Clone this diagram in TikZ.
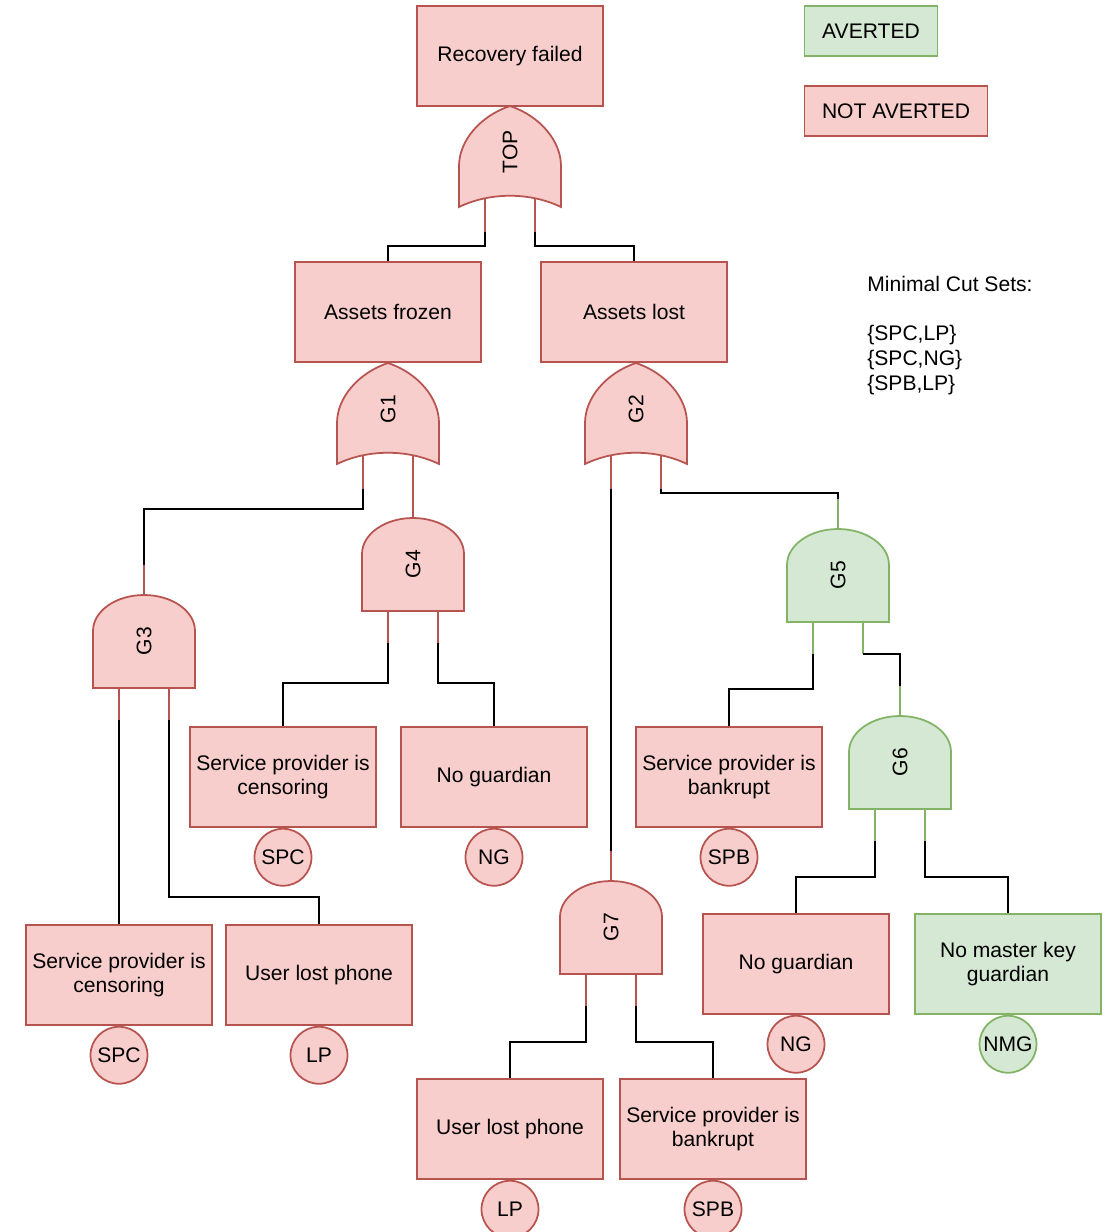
\documentclass[tikz,border=0pt]{standalone}
\usepackage{fontspec}
\setmainfont{Liberation Sans}
\usetikzlibrary{positioning}

\definecolor{nafill}{HTML}{F8CECC}
\definecolor{naline}{HTML}{B85450}
\definecolor{avfill}{HTML}{D5E8D4}
\definecolor{avline}{HTML}{82B366}

\tikzset{
    event/.style={rectangle, draw=naline, fill=nafill, line width=1pt, minimum width=3.72cm, minimum height=2cm, align=center, inner sep=2pt},
    basic/.style={circle, draw=naline, fill=nafill, line width=1pt, minimum size=1.14cm, inner sep=0pt},
    averted/.style={draw=avline, fill=avfill},
    notaverted/.style={draw=naline, fill=nafill},
    wire/.style={draw=black, line width=1pt},
}

% gates: name, x, y, colours, label
\newcommand{\orgate}[5]{%
  \begin{scope}[shift={(#2,#3)}, #4, line width=1pt]
    \draw (-25,85) -- (-25,126) coordinate (#1-a);
    \draw (25,85) -- (25,126) coordinate (#1-b);
    \filldraw (0,0) .. controls (-30,10) and (-51,35) .. (-51,60) -- (-51,101)
        .. controls (-20,86) and (20,86) .. (51,101) -- (51,60)
        .. controls (51,35) and (30,10) .. (0,0) -- cycle;
    \node[rotate=90] at (0,46) {#5};
  \end{scope}}
\newcommand{\andgate}[5]{%
  \begin{scope}[shift={(#2,#3)}, #4, line width=1pt]
    \draw (0,0) coordinate (#1-in) -- (0,30);
    \draw (-25,123) -- (-25,155) coordinate (#1-a);
    \draw (25,123) -- (25,155) coordinate (#1-b);
    \filldraw (-51,123) -- (-51,66) .. controls (-51,46) and (-28,30) .. (0,30)
        .. controls (28,30) and (51,46) .. (51,66) -- (51,123) -- cycle;
    \node[rotate=90] at (0,76) {#5};
  \end{scope}}

\begin{document}
\begin{tikzpicture}[x=0.02cm, y=-0.02cm, font=\fontsize{12}{14}\selectfont]
    \useasboundingbox (0,0) rectangle (1110,1232);

    % legend
    \node[event, averted, minimum width=2.66cm, minimum height=1cm] (legav) at (871,31) {AVERTED};
    \node[event, minimum width=3.66cm, minimum height=1cm] (legna) at (896,111) {NOT AVERTED};
    \node[anchor=north west, align=left, inner sep=0pt] (mcs) at (867,276)
        {Minimal Cut Sets:\\[14pt]\{SPC,LP\}\\\{SPC,NG\}\\\{SPB,LP\}};

    % events
    \node[event] (failed) at (510,56) {Recovery failed};
    \node[event] (frozen) at (388,312) {Assets frozen};
    \node[event] (lost) at (634,312) {Assets lost};
    \node[event] (spc1) at (283,777) {Service provider is\\censoring};
    \node[event] (ng1) at (494,777) {No guardian};
    \node[event] (spb1) at (729,777) {Service provider is\\bankrupt};
    \node[event] (spc2) at (119,975) {Service provider is\\censoring};
    \node[event] (lp1) at (319,975) {User lost phone};
    \node[event] (ng2) at (796,964) {No guardian};
    \node[event, averted] (nmg) at (1008,964) {No master key\\guardian};
    \node[event] (lp2) at (510,1129) {User lost phone};
    \node[event] (spb2) at (713,1129) {Service provider is\\bankrupt};

    % basic events
    \node[basic, below=0pt of spc1] (spc1c) {SPC};
    \node[basic, below=0pt of ng1] (ng1c) {NG};
    \node[basic, below=0pt of spb1] (spb1c) {SPB};
    \node[basic, below=0pt of spc2] (spc2c) {SPC};
    \node[basic, below=0pt of lp1] (lp1c) {LP};
    \node[basic, below=0pt of ng2] (ng2c) {NG};
    \node[basic, averted, below=0pt of nmg] (nmgc) {NMG};
    \node[basic, below=0pt of lp2] (lp2c) {LP};
    \node[basic, below=0pt of spb2] (spb2c) {SPB};

    % gates
    \orgate{top}{510}{106}{notaverted}{TOP}
    \orgate{g1}{388}{363}{notaverted}{G1}
    \orgate{g2}{636}{363}{notaverted}{G2}
    \andgate{g3}{144}{565}{notaverted}{G3}
    \andgate{g4}{413}{488}{notaverted}{G4}
    \andgate{g5}{838}{499}{averted}{G5}
    \andgate{g6}{900}{686}{averted}{G6}
    \andgate{g7}{611}{851}{notaverted}{G7}

    % connectors
    \draw[wire] (top-a) -- ++(0,14) -| (frozen.north);
    \draw[wire] (top-b) -- ++(0,14) -| (lost.north);
    \draw[wire] (g1-a) -- ++(0,20) -| (g3-in);
    \draw[wire] (g2-a) -- (g7-in);
    \draw[wire] (g2-b) -- ++(0,4) -| (g5-in);
    \draw[wire] (g3-a) -- (spc2.north);
    \draw[wire] (g3-b) -- ++(0,177) -| (lp1.north);
    \draw[wire] (g4-a) -- ++(0,40) -| (spc1.north);
    \draw[wire] (g4-b) -- ++(0,40) -| (ng1.north);
    \draw[wire] (g5-a) -- ++(0,35) -| (spb1.north);
    \draw[wire] (g5-b) -| (g6-in);
    \draw[wire] (g6-a) -- ++(0,36) -| (ng2.north);
    \draw[wire] (g6-b) -- ++(0,36) -| (nmg.north);
    \draw[wire] (g7-a) -- ++(0,36) -| (lp2.north);
    \draw[wire] (g7-b) -- ++(0,36) -| (spb2.north);
\end{tikzpicture}
\end{document}
